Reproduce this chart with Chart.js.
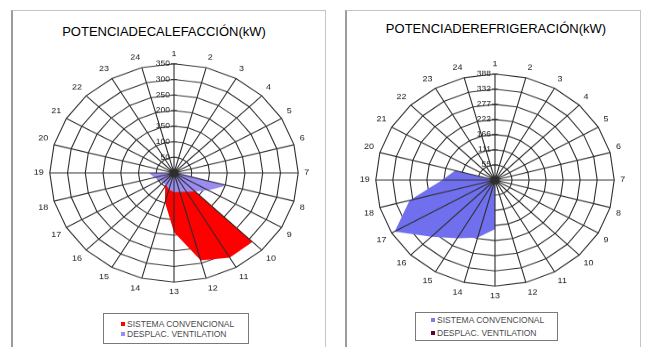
<!DOCTYPE html>
<html>
<head>
<meta charset="utf-8">
<script src="https://cdn.jsdelivr.net/npm/chart.js@4/dist/chart.umd.min.js"></script>
<style>
  html, body { margin: 0; padding: 0; background: #fff; width: 647px; height: 347px; overflow: hidden;
    font-family: "Liberation Sans", Arial, sans-serif; }
  .box { position: absolute; box-sizing: border-box; border: 1px solid #c4c4c4; border-left: 2px solid #9c9c9c; border-bottom: none; }
  .title { position: absolute; font-size: 13px; line-height: 15px; color: #000; white-space: nowrap; transform: translateX(-50%); }
  .wrap { position: absolute; transform-origin: 0 0; }
  .legend { position: absolute; box-sizing: border-box; border: 1px solid #7a7a7a; background: #fff;
    font-size: 8.5px; color: #4a4a4a; }
  .legend div { position: absolute; white-space: nowrap; line-height: 10px; }
  .legend i { display: inline-block; width: 4px; height: 4px; margin-right: 2px; vertical-align: 1px; }
</style>
</head>
<body>
<div class="box" style="left:11px;top:10px;width:315px;height:340px"></div>
<div class="box" style="left:345px;top:10px;width:296px;height:340px"></div>

<div class="title" style="left:164px;top:24px">POTENCIADECALEFACCIÓN(kW)</div>
<div class="title" style="left:496px;top:21px">POTENCIADEREFRIGERACIÓN(kW)</div>

<div class="wrap" id="w1" style="left:22px;top:50px"><canvas id="heat" width="300" height="282"></canvas></div>
<div class="wrap" id="w2" style="left:348px;top:60px"><canvas id="cool" width="290" height="272"></canvas></div>

<div class="legend" style="left:103px;top:313px;width:146px;height:31px">
  <div style="left:17px;top:5px"><i style="background:#ff0000"></i>SISTEMA CONVENCIONAL</div>
  <div style="left:17px;top:15px"><i style="background:#9a8cf0"></i>DESPLAC. VENTILATION</div>
</div>
<div class="legend" style="left:415px;top:312px;width:143px;height:29px">
  <div style="left:15px;top:2px"><i style="background:#7d7df0"></i>SISTEMA CONVENCIONAL</div>
  <div style="left:15px;top:15px"><i style="background:#660033"></i>DESPLAC. VENTILATION</div>
</div>

<script>
// Hour of day around the dial
const hours = ['1','2','3','4','5','6','7','8','9','10','11','12','13','14','15','16','17','18','19','20','21','22','23','24'];

// Heating power (kW)
const heatConventional = [0,0,0,0,0,0,0,0,0,313,314,290,190,98,50,0,0,0,0,0,0,0,0,0];
const heatDisplacement = [0,0,0,0,0,0,15,154,112,84,70,63,62,55,45,45,47,58,70,0,0,0,0,0];
const heatTickValues = [50,100,150,200,250,300,350];
const heatTickLabels = ['50','100','150','200','250','300','350'];

// Cooling power (kW)
const coolConventional = [0,0,0,0,0,0,0,0,0,0,0,0,180,218,246,293,377,288,172,134,0,0,0,0];
const coolDisplacement = [0,0,0,0,0,0,0,0,0,0,0,0,0,0,0,0,0,0,0,0,0,0,0,0];
const coolTickValues = [55.4,110.9,166.3,221.7,277.1,332.6,388];
const coolTickLabels = ['55','111','166','222','277','332','388'];

// Spokes are stroked after the filled areas; the value axis is labelled on the left of spoke 1.
const spokesAndAxis = {
  id: 'spokesAndAxis',
  afterDatasetsDraw(chart, args, opts) {
    const s = chart.scales.r;
    const ctx = chart.ctx;
    ctx.save();
    ctx.strokeStyle = '#2e2e2e';
    ctx.lineWidth = 1.1;
    ctx.beginPath();
    for (let i = 0; i < chart.data.labels.length; i++) {
      const p = s.getPointPositionForValue(i, s.max);
      ctx.moveTo(s.xCenter, s.yCenter);
      ctx.lineTo(p.x, p.y);
    }
    opts.values.forEach(v => {
      const p = s.getPointPositionForValue(0, v);
      ctx.moveTo(p.x - 3, p.y);
      ctx.lineTo(p.x + 3, p.y);
    });
    ctx.stroke();
    ctx.font = '8.5px "Liberation Sans", Arial, sans-serif';
    ctx.fillStyle = '#222';
    ctx.textAlign = 'right';
    ctx.textBaseline = 'middle';
    opts.values.forEach((v, j) => {
      const p = s.getPointPositionForValue(0, v);
      ctx.fillText(opts.labels[j], p.x - 4, p.y);
    });
    ctx.restore();
  }
};

function radar(id, wrapId, yScale, max, tickValues, tickLabels, sets) {
  document.getElementById(wrapId).style.transform = 'scaleY(' + yScale + ')';
  return new Chart(document.getElementById(id), {
    type: 'radar',
    data: {
      labels: hours,
      datasets: sets.map(d => ({
        label: d.label,
        data: d.data,
        backgroundColor: d.color,
        borderColor: d.color,
        borderWidth: 0,
        fill: true,
        pointRadius: 0,
        tension: 0,
        order: d.order
      }))
    },
    options: {
      responsive: false,
      animation: false,
      events: [],
      layout: { padding: 0 },
      plugins: {
        legend: { display: false },
        tooltip: { enabled: false },
        spokesAndAxis: { values: tickValues, labels: tickLabels }
      },
      scales: {
        r: {
          min: 0,
          max: max,
          afterBuildTicks: s => { s.ticks = [0].concat(tickValues).map(v => ({ value: v })); },
          ticks: { display: false },
          grid: { color: '#2e2e2e', lineWidth: 1.1 },
          angleLines: { display: false },
          pointLabels: {
            color: '#222',
            padding: 6,
            font: { family: '"Liberation Sans", Arial, sans-serif', size: 9 }
          }
        }
      }
    },
    plugins: [spokesAndAxis]
  });
}

radar('heat', 'w1', 0.878, 350, heatTickValues, heatTickLabels, [
  { label: 'SISTEMA CONVENCIONAL', data: heatConventional, color: '#ff0000', order: 1 },
  { label: 'DESPLAC. VENTILATION', data: heatDisplacement, color: '#9a8cf0', order: 0 }
]);
radar('cool', 'w2', 0.889, 388, coolTickValues, coolTickLabels, [
  { label: 'SISTEMA CONVENCIONAL', data: coolConventional, color: '#7070ee', order: 1 },
  { label: 'DESPLAC. VENTILATION', data: coolDisplacement, color: '#660033', order: 0 }
]);
</script>
</body>
</html>
